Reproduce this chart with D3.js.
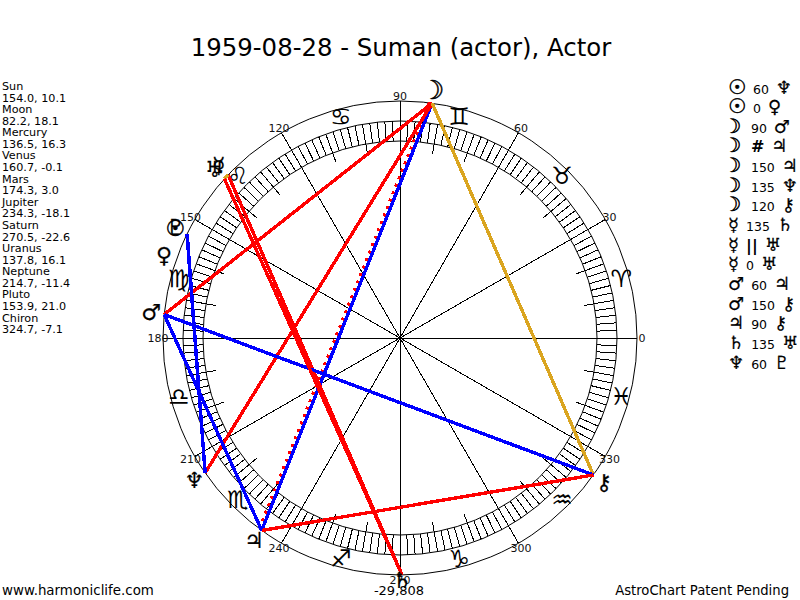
<!DOCTYPE html>
<html><head><meta charset="utf-8">
<script src="https://cdn.jsdelivr.net/npm/d3@7"></script>
<style>html,body{margin:0;padding:0;background:#fff}svg{display:block}text{font-family:"DejaVu Sans",sans-serif}</style>
</head><body><svg id="c" width="800" height="600"></svg>
<script>
const planetNames=["Sun","Moon","Mercury","Venus","Mars","Jupiter","Saturn","Uranus","Neptune","Pluto","Chiron"];
const longitudes=[154.0,82.2,136.5,160.7,174.3,234.3,270.5,137.8,214.7,153.9,324.7];
const latitudes=["10.1","18.1","16.3","-0.1","3.0","-18.1","-22.6","16.1","-11.4","21.0","-7.1"];
const longLabels=["154.0","82.2","136.5","160.7","174.3","234.3","270.5","137.8","214.7","153.9","324.7"];
const planetGlyphs=["\u2609","\u263D","\u263F","\u2640","\u2642","\u2643","\u2644","\u2645","\u2646","\u2647","\u26B7"];
const signGlyphs=["\u2648","\u2649","\u264A","\u264B","\u264C","\u264D","\u264E","\u264F","\u2650","\u2651","\u2652","\u2653"];
const aspectFrom=[0,0,1,1,1,1,1,2,2,2,4,4,5,6,8];
const aspectTo=[8,3,4,5,5,8,10,6,7,7,5,10,10,7,9];
const aspectLabel=["60","0","90","#","150","135","120","135","||","0","60","150","90","135","60"];
const spokeAngles=d3.range(0,360,30);
const tickAngles=d3.range(0,360,2);
const longTicks=d3.range(0,360,10);
const aspectColor={"0":"#DAA520","60":"#0000ff","120":"#DAA520","150":"#0000ff","90":"#ff0000","135":"#ff0000"};
const svg=d3.select("#c");
const cx=400,cy=338;
const r=d3.scaleLinear().domain([0,237]).range([0,237]);
const pt=(deg,rad,off=0)=>{const t=deg*Math.PI/180;return [cx+r(rad)*Math.cos(t),cy-r(rad)*Math.sin(t)-off]};
const ln=(g,a,b,col,w,dash)=>g.append("line").attr("x1",a[0]).attr("y1",a[1]).attr("x2",b[0]).attr("y2",b[1]).attr("stroke",col).attr("stroke-width",w).attr("stroke-dasharray",dash||null).attr("shape-rendering","crispEdges");
const gg=svg.append("g");
[237,217,197].forEach(f=>gg.append("circle").attr("cx",cx).attr("cy",cy).attr("r",r(f)).attr("fill","none").attr("stroke","#000"));
spokeAngles.forEach(a=>ln(gg,pt(a,0),pt(a,237),"#000",1));
tickAngles.forEach(a=>ln(gg,pt(a,197),pt(a,217),"#000",1));
longTicks.filter(a=>a%30).forEach(a=>ln(gg,pt(a,187),pt(a,197),"#000",1));
signGlyphs.forEach((s,i)=>{const p=pt(15+30*i,229);
 gg.append("text").attr("x",p[0]).attr("y",p[1]+8).attr("text-anchor","middle").attr("font-size",24).text(s+"\uFE0E")});
const lg=svg.append("g");
// parallel (Moon-Jupiter) is dotted, drawn just beside the line it shares
aspectFrom.forEach((f,i)=>{const l=aspectLabel[i];if(l!=="#")return;
 const a=pt(longitudes[f],237),b=pt(longitudes[aspectTo[i]],237);
 const dx=b[0]-a[0],dy=b[1]-a[1],n=Math.hypot(dx,dy),ox=-dy/n*3,oy=dx/n*3;
 ln(lg,[a[0]+ox,a[1]+oy],[b[0]+ox,b[1]+oy],"#ff0000",3,"3 5");});
aspectFrom.forEach((f,i)=>{const a=pt(longitudes[f],237),b=pt(longitudes[aspectTo[i]],237),l=aspectLabel[i];
 if(l==="#"||l==="||")return;
 if(f===0&&aspectTo[i]===3)return; // Sun-Venus is listed but not drawn in the reference
 ln(lg,a,b,aspectColor[l],3.4);});
spokeAngles.forEach(a=>{const p=pt(a,242);
 svg.append("text").attr("x",p[0]).attr("y",p[1]+4).attr("text-anchor","middle").attr("font-size",11).attr("fill","#111").text(a)});
planetGlyphs.forEach((g,i)=>{const p=pt(longitudes[i],250);const fs=i===1?26:22;
 svg.append("text").attr("x",p[0]-(i===1?1:0)).attr("y",Math.min(p[1]+fs*0.33,588)).attr("text-anchor","middle").attr("font-size",fs).attr("stroke","#000").attr("stroke-width",i<2?0.5:0.2).text(g+"\uFE0E")});
svg.append("text").attr("x",401).attr("y",56).attr("text-anchor","middle").attr("font-size",24.4).text("1959-08-28 - Suman (actor), Actor");
planetNames.forEach((n,i)=>{
 svg.append("text").attr("x",2).attr("y",90+i*23.15).attr("font-size",11.2).text(n);
 svg.append("text").attr("x",2).attr("y",101.6+i*23.15).attr("font-size",11.2).text(longLabels[i]+", "+latitudes[i]);});
aspectFrom.forEach((f,i)=>{const y=93.5+i*19.65,l=aspectLabel[i];
 let x=f===1?723:728;
 const put=(s,fs,w,sw)=>{const t=svg.append("text").attr("x",x).attr("y",y).attr("font-size",fs).attr("font-weight",w||null).attr("stroke",sw?"#000":null).attr("stroke-width",sw||null).text(s);
  x+=t.node().getComputedTextLength()+7;};
 put(planetGlyphs[f]+"\uFE0E",f<2?20:18,null,f<2?0.5:0.2);
 if(f===1)x+=3;
 if(l==="#"||l==="||") put(l,16,"bold");
 else put(l,12.5);
 put(planetGlyphs[aspectTo[i]]+"\uFE0E",18,null,0.2);});
svg.append("text").attr("x",2).attr("y",595).attr("font-size",13.4).text("www.harmoniclife.com");
svg.append("text").attr("x",399).attr("y",595).attr("text-anchor","middle").attr("font-size",13).text("-29,808");
svg.append("text").attr("x",789).attr("y",595).attr("text-anchor","end").attr("font-size",13.2).text("AstroChart Patent Pending");
</script></body></html>
